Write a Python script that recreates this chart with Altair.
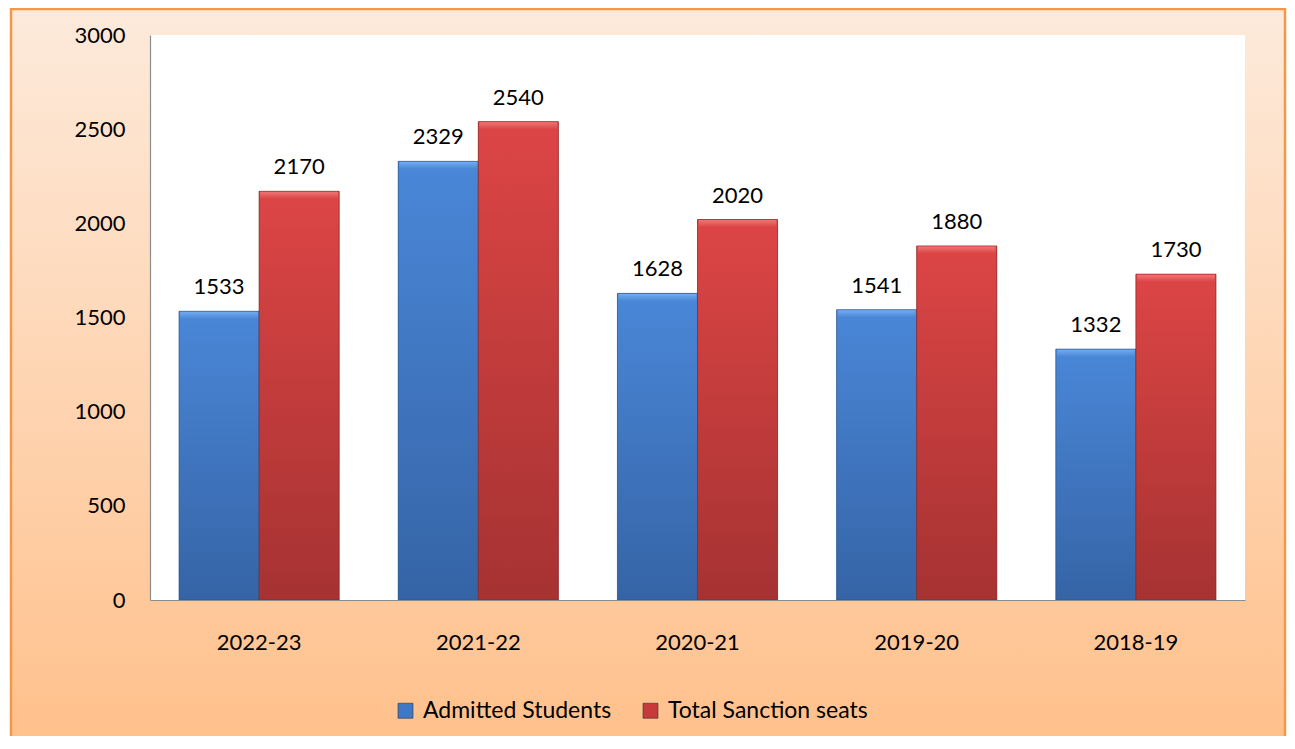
import altair as alt
import pandas as pd

years = ["2022-23", "2021-22", "2020-21", "2019-20", "2018-19"]
series_names = ["Admitted Students", "Total Sanction seats"]
admitted = [1533, 2329, 1628, 1541, 1332]
sanction = [2170, 2540, 2020, 1880, 1730]
y_ticks = [0, 500, 1000, 1500, 2000, 2500, 3000]

rows = []
for yr, a, s in zip(years, admitted, sanction):
    rows.append({"year": yr, "series": series_names[0], "value": a})
    rows.append({"year": yr, "series": series_names[1], "value": s})
df = pd.DataFrame(rows)

W, H = 1095, 565
PAD = {"left": 142, "top": 27, "right": 42, "bottom": 136}
FONT = "Lato"


def vgrad(c0, c1):
    return {"gradient": "linear", "x1": 0, "y1": 0, "x2": 0, "y2": 1,
            "stops": [{"offset": 0, "color": c0}, {"offset": 1, "color": c1}]}


bg_grad = vgrad("#FDEADB", "#FFBF89")
blue_grad = vgrad("#4A87D8", "#3564A6")
red_grad = vgrad("#DD4545", "#A63232")
blue_bevel = vgrad("#7AB2F2", "#4A87D8")
red_bevel = vgrad("#F27E7E", "#DD4545")

one = pd.DataFrame({"k": [0]})

bg = alt.Chart(one).mark_rect(fill=bg_grad, stroke="#F79646", strokeWidth=2.5).encode(
    x=alt.value(-139), x2=alt.value(W + PAD["right"] - 2),
    y=alt.value(-26), y2=alt.value(H + PAD["bottom"] + 30)
)

plot_bg = alt.Chart(one).mark_rect(fill="white").encode(
    x=alt.value(0), x2=alt.value(W), y=alt.value(0), y2=alt.value(H)
)

x_enc = alt.X("year:N", sort=years, title=None,
              scale=alt.Scale(paddingInner=0.2694, paddingOuter=0.1324),
              axis=alt.Axis(labelAngle=0, ticks=False, labelPadding=32,
                            labelFontSize=22, labelFont=FONT, labelColor="black",
                            domainColor="#8C8C8C", domainWidth=1.2, zindex=1))
xo_enc = alt.XOffset("series:N", sort=series_names)
y_enc = alt.Y("value:Q", title=None,
              scale=alt.Scale(domain=[0, 3000], nice=False),
              axis=alt.Axis(values=y_ticks, format="d", ticks=False, grid=False,
                            labelPadding=25,
                            labelFontSize=22, labelFont=FONT, labelColor="black",
                            domainColor="#8C8C8C", domainWidth=1.2, zindex=1))

base = alt.Chart(df)

bars_legend = base.mark_bar().encode(
    x=x_enc, xOffset=xo_enc, y=y_enc,
    color=alt.Color("series:N", sort=series_names,
                    scale=alt.Scale(domain=series_names, range=["#3F78C4", "#C83A3A"]),
                    legend=alt.Legend(orient="none", legendX=244, legendY=664,
                                      direction="horizontal", title=None,
                                      symbolType="square", symbolSize=225,
                                      symbolStrokeColor="#333333", symbolStrokeWidth=0.6,
                                      labelFontSize=23, labelFont=FONT, labelColor="black",
                                      labelOffset=6, columnPadding=27, labelLimit=400,
                                      zindex=1))
)

is_blue = "datum.series == 'Admitted Students'"

bars_grad = base.mark_bar(strokeWidth=1, strokeOpacity=0.7).encode(
    x=x_enc, xOffset=xo_enc, y=y_enc,
    fill=alt.condition(is_blue, alt.value(blue_grad), alt.value(red_grad)),
    stroke=alt.condition(is_blue, alt.value("#2B5590"), alt.value("#8A2626")),
)

bevel = base.mark_tick(thickness=7, size=78, yOffset=4, opacity=0.85).encode(
    x=x_enc, xOffset=xo_enc, y=y_enc,
    fill=alt.condition(is_blue, alt.value(blue_bevel), alt.value(red_bevel)),
)

labels = base.mark_text(dy=-17, baseline="alphabetic", align="center",
                        font=FONT, fontSize=22, color="black").encode(
    x=x_enc, xOffset=xo_enc, y=y_enc, text=alt.Text("value:Q")
)

chart = alt.layer(bg, plot_bg, bars_legend, bars_grad, bevel, labels).properties(
    width=W, height=H,
    autosize=alt.AutoSizeParams(type="none"),
    padding=PAD,
    background="white",
).configure_view(stroke=None).configure(font=FONT)

chart.save("out.html", embed_options={"renderer": "svg", "actions": False})
